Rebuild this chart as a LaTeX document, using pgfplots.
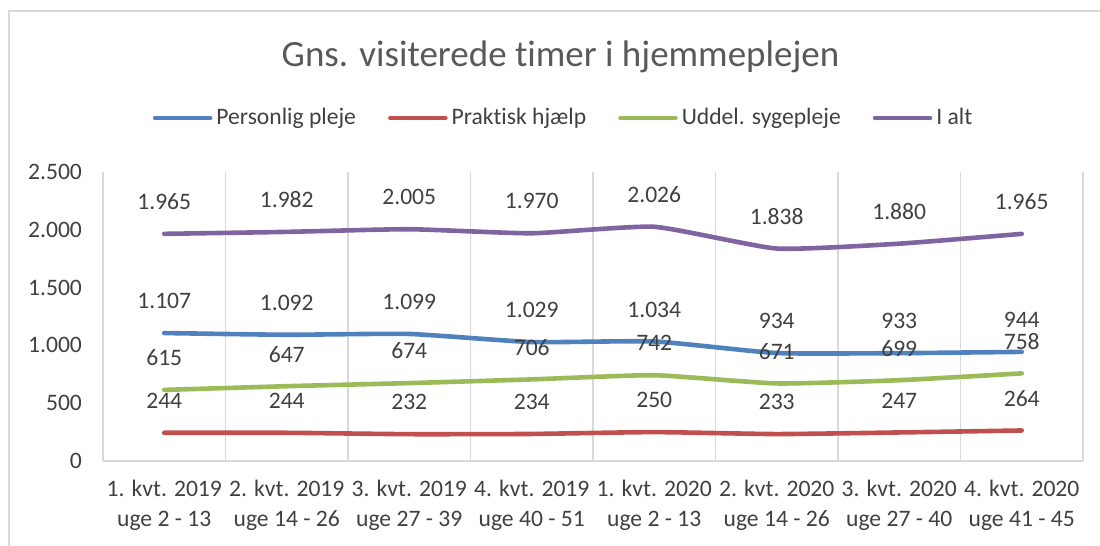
\documentclass[border=0pt]{standalone}
\usepackage{fontspec}
\setmainfont{Carlito}[Ligatures=NoCommon]
\usepackage{pgfplots}
\pgfplotsset{compat=1.18}

\definecolor{cPers}{HTML}{4F81BD}
\definecolor{cPrak}{HTML}{C0504D}
\definecolor{cUdd}{HTML}{9BBB59}
\definecolor{cAlt}{HTML}{8064A2}
\definecolor{txt}{HTML}{404040}
\definecolor{ttl}{HTML}{595959}
\definecolor{gridc}{HTML}{D9D9D9}

\pgfplotstableread{
x pers prak udd alt
0 1107 244 615 1965
1 1092 244 647 1982
2 1099 232 674 2005
3 1029 234 706 1970
4 1034 250 742 2026
5 934 233 671 1838
6 933 247 699 1880
7 944 264 758 1965
}\datatab

\newcommand{\lblfont}{\fontsize{11.8}{15}\selectfont}

\begin{document}
\begin{tikzpicture}
\path[use as bounding box] (0pt,0pt) rectangle (550pt,-273pt);
\draw[gridc, line width=0.8pt] (4.5pt,-280pt) -- (4.5pt,-5.5pt) -- (560pt,-5.5pt);
\node[anchor=base, text=ttl, font=\fontsize{18.5}{21}\selectfont] at (280.25pt,-33.5pt)
  {Gns. visiterede timer i hjemmeplejen};
\begin{axis}[
  at={(51.5pt,-230.5pt)}, anchor=south west,
  scale only axis, width=490pt, height=144.5pt,
  xmin=-0.5, xmax=7.5, ymin=0, ymax=2500,
  ytick={0,500,...,2500},
  xtick={0,...,7},
  xticklabels={{1. kvt. 2019\\uge 2 - 13},{2. kvt. 2019\\uge 14 - 26},
    {3. kvt. 2019\\uge 27 - 39},{4. kvt. 2019\\uge 40 - 51},
    {1. kvt. 2020\\uge 2 - 13},{2. kvt. 2020\\uge 14 - 26},
    {3. kvt. 2020\\uge 27 - 40},{4. kvt. 2020\\uge 41 - 45}},
  minor xtick={-0.5,0.5,...,7.5},
  minor x grid style={gridc, line width=0.8pt},
  xminorgrids=true,
  major tick length=0pt, minor tick length=0pt,
  axis x line*=bottom, axis y line*=left,
  x axis line style={gridc, line width=0.8pt, -},
  y axis line style={draw=none},
  tick label style={text=txt, font=\lblfont},
  xticklabel style={align=center, anchor=north, yshift=-6pt},
  yticklabel style={xshift=-7pt},
  /pgf/number format/.cd, 1000 sep={.}, assume math mode=true,
  /pgfplots/.cd,
  nodes near coords,
  every node near coord/.append style={text=txt, font=\lblfont, anchor=center, yshift=16pt},
  legend columns=4,
  legend style={at={(0.471,1.187)}, anchor=center, draw=none, fill=none,
    font=\lblfont, text=txt,
    /tikz/every even column/.append style={column sep=14pt}},
  legend image code/.code={\draw[#1, line cap=round] (0pt,0pt) -- (27.5pt,0pt);},
  every axis plot/.append style={line width=2.3pt, line cap=round, line join=round, smooth, tension=0.3},
]
\addplot[cPers, no markers] table[x=x, y=pers] {\datatab};
\addlegendentry{Personlig pleje}
\addplot[cPrak, no markers] table[x=x, y=prak] {\datatab};
\addlegendentry{Praktisk hjælp}
\addplot[cUdd, no markers] table[x=x, y=udd] {\datatab};
\addlegendentry{Uddel. sygepleje}
\addplot[cAlt, no markers] table[x=x, y=alt] {\datatab};
\addlegendentry{I alt}
\end{axis}
\end{tikzpicture}
\end{document}
